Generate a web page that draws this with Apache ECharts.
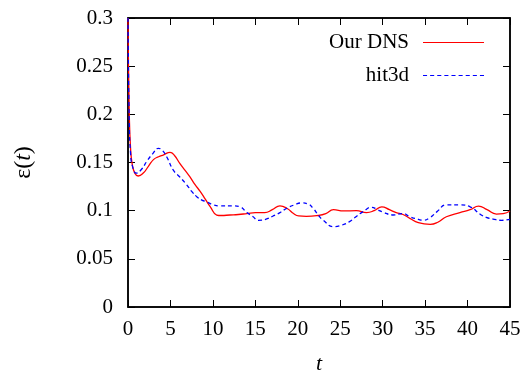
<!DOCTYPE html>
<html><head><meta charset="utf-8">
<script src="https://cdn.jsdelivr.net/npm/echarts@6/dist/echarts.min.js"></script>
<style>html,body{margin:0;padding:0;background:#fff}#c{width:528px;height:379px;background:#fff}</style>
</head><body><div id="c"></div>
<script>
const xTicks = [0, 5, 10, 15, 20, 25, 30, 35, 40, 45];
const yTicks = [0, 0.05, 0.1, 0.15, 0.2, 0.25, 0.3];
const dnsT = [0, 0.15, 0.3, 0.5, 0.8, 1.2, 1.8, 2.4, 3.0, 3.6, 4.2, 4.95, 5.5, 6.1, 6.7, 7.3, 7.9, 8.5, 9.1, 9.7, 10.45, 11, 12, 13, 14, 15, 16.1, 17, 17.9, 18.8, 19.5, 20.1, 21, 22.4, 23.3, 24.2, 25.4, 26.9, 28.1, 29, 29.9, 30.8, 31.6, 32.4, 33.2, 34.2, 35.6, 36.5, 37.5, 39.1, 40.3, 41.3, 42.3, 43.4, 44.2, 45];
const dnsV = [0.30, 0.2, 0.165, 0.148, 0.139, 0.136, 0.139, 0.146, 0.153, 0.156, 0.158, 0.1606, 0.157, 0.149, 0.142, 0.135, 0.127, 0.12, 0.112, 0.104, 0.0955, 0.095, 0.0955, 0.096, 0.097, 0.098, 0.098, 0.101, 0.105, 0.102, 0.097, 0.0945, 0.094, 0.095, 0.097, 0.101, 0.0997, 0.100, 0.098, 0.1, 0.104, 0.101, 0.098, 0.096, 0.092, 0.0875, 0.0858, 0.088, 0.0937, 0.098, 0.101, 0.1048, 0.101, 0.0965, 0.097, 0.0997];
const hitT = [0, 0.15, 0.3, 0.5, 1.0, 1.6, 2.2, 2.9, 3.57, 4.0, 4.55, 5.34, 6.1, 6.9, 7.5, 8.1, 8.7, 9.3, 10.1, 10.8, 12.4, 13.2, 14, 14.7, 15.35, 16.2, 17.1, 17.9, 18.7, 19.6, 20.45, 21.2, 21.8, 22.5, 23, 24.2, 25.2, 26.1, 26.9, 27.7, 28.7, 29.4, 30.1, 31.2, 32.4, 33.2, 34.2, 34.8, 35.6, 36.4, 37.5, 39.1, 40.3, 41.5, 42.2, 43, 44, 45];
const hitV = [0.30, 0.19, 0.16, 0.147, 0.139, 0.143, 0.151, 0.159, 0.1647, 0.163, 0.156, 0.142, 0.135, 0.127, 0.12, 0.1145, 0.111, 0.109, 0.106, 0.105, 0.105, 0.104, 0.098, 0.094, 0.090, 0.091, 0.0945, 0.098, 0.1025, 0.106, 0.108, 0.107, 0.1025, 0.0945, 0.090, 0.0834, 0.085, 0.0886, 0.094, 0.099, 0.1035, 0.101, 0.0983, 0.0955, 0.097, 0.0937, 0.091, 0.090, 0.093, 0.099, 0.106, 0.106, 0.104, 0.0962, 0.093, 0.0913, 0.090, 0.091];
const seriesNames = ['Our DNS', 'hit3d'];

const font = 'Liberation Serif';
const xMin = xTicks[0], xMax = xTicks[xTicks.length - 1];
const yMin = yTicks[0], yMax = yTicks[yTicks.length - 1];
function line() { return {show: true, onZero: false, lineStyle: {color: '#000', width: 1.5}}; }
function tk() { return {show: true, inside: true, length: 7, lineStyle: {color: '#000'}}; }
const hidden = {show: true, color: 'rgba(0,0,0,0)', fontSize: 1, margin: 2};
const solidIcon = 'path://M0,0H60V1H0Z';
const dashIcon = 'path://M0,0H4V1H0Z M7,0H11V1H7Z M14,0H18V1H14Z M21,0H25V1H21Z M28,0H32V1H28Z M35,0H39V1H35Z M42,0H46V1H42Z M49,0H53V1H49Z M56,0H60V1H56Z';

const chart = echarts.init(document.getElementById('c'));
chart.setOption({
  animation: false,
  grid: {left: 128, right: 18, top: 18, bottom: 72, outerBoundsMode: 'none',
         show: true, borderColor: '#000', borderWidth: 1.5},
  xAxis: [
    {type: 'value', min: xMin, max: xMax, interval: 5, axisLine: line(), axisTick: tk(), splitLine: {show: false},
     axisLabel: {color: '#000', fontFamily: font, fontSize: 21, margin: 12},
     name: 't', nameLocation: 'middle', nameGap: 46,
     nameTextStyle: {fontFamily: font, fontStyle: 'italic', fontSize: 22, color: '#000'}},
    {type: 'value', position: 'top', min: xMin, max: xMax, interval: 5, axisLine: line(), axisTick: tk(), splitLine: {show: false},
     axisLabel: hidden}
  ],
  yAxis: [
    {type: 'value', min: yMin, max: yMax, interval: 0.05, axisLine: line(), axisTick: tk(), splitLine: {show: false},
     axisLabel: {color: '#000', fontFamily: font, fontSize: 21, margin: 15},
     name: 'ε({i|t})', nameLocation: 'middle', nameGap: 92, nameRotate: 90,
     nameTextStyle: {fontFamily: font, fontSize: 24, color: '#000', rich: {i: {fontFamily: font, fontStyle: 'italic', fontSize: 24, color: '#000'}}}},
    {type: 'value', position: 'right', min: yMin, max: yMax, interval: 0.05, axisLine: line(), axisTick: tk(), splitLine: {show: false},
     axisLabel: hidden}
  ],
  legend: {
    orient: 'vertical', align: 'right', right: 39, top: 27, itemWidth: 61, itemHeight: 1.5, itemGap: 12,
    textStyle: {fontFamily: font, fontSize: 21, color: '#000', padding: [0, 9, 0, 0]},
    data: [{name: seriesNames[0], icon: solidIcon}, {name: seriesNames[1], icon: dashIcon}]
  },
  series: [
    {name: seriesNames[0], type: 'line', symbol: 'none', smooth: 0.5, color: '#ff0000',
     lineStyle: {color: '#ff0000', width: 1.3}, itemStyle: {color: '#ff0000'},
     data: dnsT.map((t, i) => [t, dnsV[i]])},
    {name: seriesNames[1], type: 'line', symbol: 'none', smooth: 0.5, color: '#0000ff',
     lineStyle: {color: '#0000ff', width: 1.3, type: [4, 3]}, itemStyle: {color: '#0000ff'},
     data: hitT.map((t, i) => [t, hitV[i]])},
    {name: 'frame', type: 'line', xAxisIndex: 1, yAxisIndex: 1, symbol: 'none', lineStyle: {opacity: 0},
     data: [[xMin, yMin]]}
  ]
});
</script></body></html>
